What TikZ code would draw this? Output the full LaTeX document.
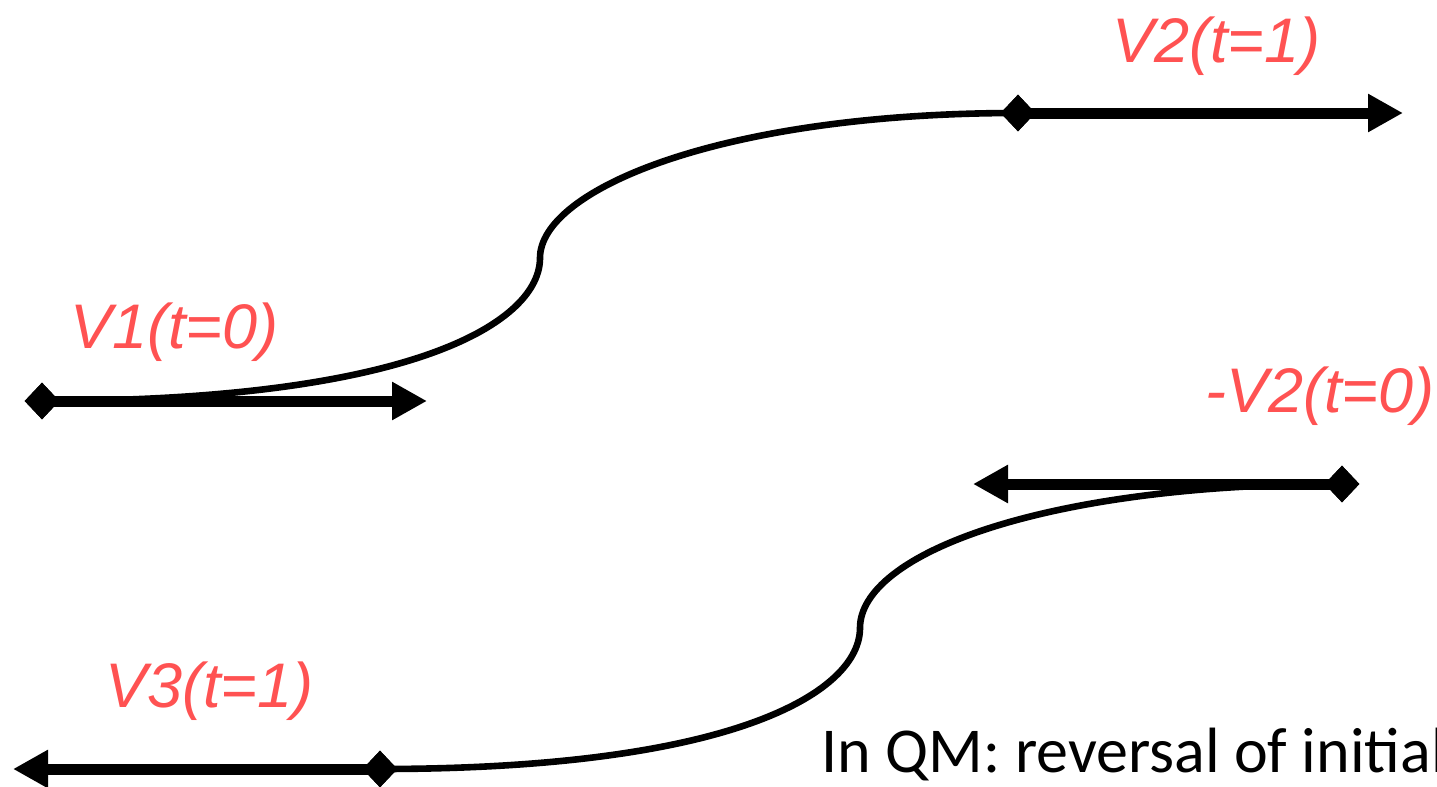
\documentclass[tikz,border=0pt]{standalone}
\usepackage{fontspec}
\setmainfont{Liberation Sans}
\newfontfamily\calfont{Carlito}
\usetikzlibrary{arrows.meta,shapes.geometric}
\definecolor{lblred}{RGB}{255,82,82}
\tikzset{
  vec/.style={line width=5.5pt,-{Triangle[length=17.5pt,width=18pt]}},
  path/.style={line width=3.3pt},
  dmd/.style={diamond,fill=black,inner sep=0pt,minimum width=17.5pt,minimum height=18.5pt},
  lbl/.style={text=lblred,font=\fontsize{31.5}{36}\selectfont\itshape,anchor=base west,inner sep=0pt},
}
\begin{document}
\begin{tikzpicture}[x=0.5pt,y=-0.5pt]
\useasboundingbox (0,0) rectangle (1437,787);
\clip (0,0) rectangle (1437,787);
\node[dmd] (d1) at (42,401) {};
\node[dmd] (d2) at (1018,113) {};
\node[dmd] (d3) at (1342,484) {};
\node[dmd] (d4) at (380,769) {};
\coordinate (m1) at (540,258);
\coordinate (m2) at (860,628);
\coordinate (t1) at (427,401);
\coordinate (t2) at (1403,113);
\coordinate (t3) at (973,484);
\coordinate (t4) at (13,769);
\draw[path] (d1.center) .. controls (420,401) and (540,320) .. (m1)
  .. controls (540,190) and (720,113) .. (d2.center);
\draw[path] (d4.center) .. controls (740,769) and (860,690) .. (m2)
  .. controls (860,555) and (1040,484) .. (d3.center);
\draw[vec] (d1.center) -- (t1);
\draw[vec] (d2.center) -- (t2);
\draw[vec] (d3.center) -- (t3);
\draw[vec] (d4.center) -- (t4);
\node[dmd] at (d1) {};
\node[dmd] at (d2) {};
\node[dmd] at (d3) {};
\node[dmd] at (d4) {};
\node[lbl] (l1) at (70,348) {V1(t=0)};
\node[lbl] (l2) at (1112,62) {V2(t=1)};
\node[lbl] (l3) at (1205,412) {-V2(t=0)};
\node[lbl] (l4) at (105,707) {V3(t=1)};
\node[anchor=base west,inner sep=0pt,font=\calfont\fontsize{32}{36}\selectfont] (qm) at (821,772) {In QM: reversal of initial};
\end{tikzpicture}
\end{document}
